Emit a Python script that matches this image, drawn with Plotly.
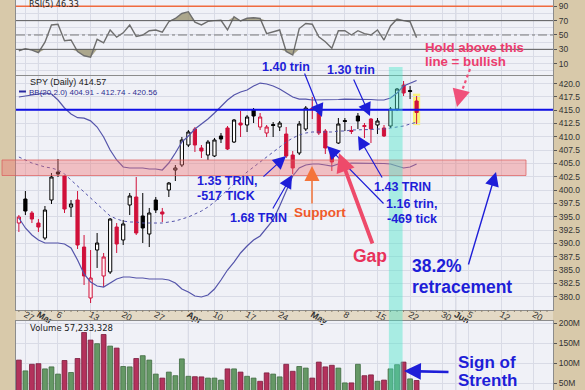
import plotly.graph_objects as go

# ---------------- data ----------------
PREV_CLOSE = 396.0          # close before the first visible bar (estimate)
day = list(range(-1, 61))   # trading-day index, 0 = Feb 27

opens = [393.84, 398.34, 395.72, 393.84, 391.03, 398.16, 403.41, 402.66, 396.84, 398.16,
         389.34, 379.78, 388.78, 383.91, 384.66, 393.09, 390.66, 397.22, 398.72, 395.16,
         391.78, 398.16, 395.91, 400.03, 403.78, 404.72, 408.47, 411.47, 407.91, 406.59,
         406.41, 410.16, 411.66, 409.03, 412.59, 412.22, 415.03, 411.84, 410.72, 412.31,
         411.84, 410.53, 406.59, 406.97, 411.47, 415.31, 414.47, 411.09, 406.97, 408.84,
         413.06, 411.19, 413.91, 412.13, 413.34, 412.22, 411.66, 412.03, 415.22, 419.72,
         418.69, 416.72]
highs = [395.34, 399.84, 396.09, 394.59, 397.03, 403.22, 405.84, 402.84, 398.16, 399.84,
         391.59, 388.78, 391.97, 388.22, 394.78, 393.84, 394.41, 399.47, 402.47, 399.47,
         396.66, 398.72, 396.66, 401.53, 404.72, 409.97, 411.28, 411.84, 408.47, 409.41,
         409.78, 410.72, 412.03, 413.34, 414.84, 414.09, 415.41, 414.47, 412.22, 412.78,
         412.97, 411.84, 407.34, 412.97, 415.78, 417.47, 414.84, 411.47, 407.72, 413.53,
         413.53, 412.03, 414.47, 412.59, 413.53, 413.53, 412.22, 415.59, 419.16, 420.47,
         419.53, 417.66]
lows = [392.16, 395.34, 393.84, 392.16, 390.66, 397.41, 402.47, 395.72, 394.97, 388.97,
        382.22, 378.84, 385.41, 381.84, 384.28, 388.22, 389.72, 395.34, 391.59, 390.09,
        389.34, 395.72, 394.03, 398.72, 401.72, 404.34, 408.09, 407.16, 406.03, 405.66,
        406.22, 408.84, 407.53, 408.84, 409.97, 410.91, 412.59, 411.28, 409.97, 409.97,
        411.09, 406.03, 403.03, 406.59, 411.09, 413.34, 410.34, 406.78, 403.59, 408.66,
        411.09, 410.53, 411.47, 409.78, 408.84, 410.53, 409.97, 411.66, 414.84, 417.66,
        417.09, 412.41]
closes = [394.97, 396.09, 394.59, 393.09, 396.28, 402.47, 403.03, 396.47, 397.41, 389.72,
          383.91, 383.53, 390.09, 387.47, 394.59, 389.91, 393.66, 398.91, 391.97, 392.91,
          395.72, 396.28, 395.53, 401.34, 404.16, 409.41, 410.91, 408.47, 407.34, 409.03,
          409.41, 409.59, 407.72, 413.16, 412.22, 413.72, 413.91, 413.72, 411.84, 412.13,
          412.59, 406.41, 404.16, 412.41, 415.41, 415.13, 410.72, 407.91, 405.28, 412.41,
          412.88, 411.00, 412.97, 411.94, 411.47, 412.97, 410.16, 415.22, 418.97, 418.22,
          418.50, 414.57]
volume_m = [108, 81, 97.5, 99, 86, 91, 73, 107, 77, 112, 177, 158, 149, 172, 143, 138,
            92, 91, 112, 119, 108, 73, 63, 78, 69, 111, 67.5, 66.5, 66, 63, 63, 58, 86,
            86, 78, 67.5, 63, 55, 76, 73, 66, 97.5, 80, 92, 88, 63, 103, 91, 95, 88, 51,
            51, 97.5, 69, 71, 55, 58, 86, 96.5, 103, 61, 57]
rsi = [28, 31, 29, 25.3, 40, 64, 65, 42, 43, 27, 21, 19, 44, 39, 57, 47, 53, 64, 48, 50,
       56, 57, 54, 68.5, 73, 80, 82.5, 68, 64, 69, 70, 70.5, 57, 75.5, 69.5, 73.3, 74, 73,
       52, 54, 57, 27, 22, 59, 66, 65, 47.6, 40.7, 31.5, 56, 56, 50, 56, 52, 50, 57, 43,
       62.6, 72.3, 70, 68.5, 46.33]
bb_upper = [417.47, 417.66, 417.84, 418.03, 418.22, 418.03, 416.91, 415.41, 414.28, 413.6,
            413.5, 413.0, 411.84, 409.97, 407.53, 405.66, 404.34, 404.16, 404.16, 404.16,
            403.97, 403.97, 403.78, 405.09, 406.97, 409.03, 410.16, 411.47, 412.41, 413.34,
            414.47, 415.78, 416.91, 417.84, 418.41, 418.78, 419.53, 420.09, 419.91, 419.53,
            418.97, 418.22, 417.47, 417.09, 417.09, 416.91, 416.91, 416.91, 416.91, 417.0,
            417.09, 417.09, 417.09, 417.09, 417.0, 416.91, 416.91, 417.28, 418.22, 419.53,
            420.09, 420.56]
bb_mid = [406.22, 405.66, 405.09, 404.72, 404.34, 404.16, 403.78, 403.03, 401.91, 400.78,
          399.66, 398.53, 397.41, 396.28, 395.16, 394.59, 394.22, 394.03, 394.03, 393.84,
          393.84, 393.84, 393.84, 394.03, 394.22, 394.59, 394.97, 395.53, 396.09, 396.84,
          397.78, 398.91, 400.03, 401.16, 402.28, 403.41, 404.34, 405.28, 406.22, 407.16,
          408.09, 409.03, 409.78, 410.34, 410.72, 410.91, 410.91, 410.91, 410.91, 411.09,
          411.09, 411.28, 411.28, 411.28, 411.38, 411.47, 411.47, 411.66, 411.84, 412.03,
          412.41, 412.74]
bb_lower = [394.78, 392.91, 391.59, 390.66, 390.09, 390.09, 390.09, 389.91, 389.16, 386.91,
            384.28, 382.78, 382.03, 381.84, 382.59, 383.34, 383.72, 383.72, 383.53, 383.53,
            383.34, 383.34, 383.34, 383.16, 382.59, 381.47, 380.91, 380.16, 379.97, 380.34,
            381.47, 383.16, 385.03, 386.53, 388.22, 389.53, 390.66, 391.41, 392.91, 394.41,
            397.03, 400.03, 402.66, 404.16, 404.72, 404.91, 404.91, 404.72, 404.53, 404.91,
            404.91, 405.09, 405.09, 405.09, 405.09, 405.09, 405.0, 404.91, 404.53, 404.16,
            404.34, 404.91]

date_tick_pos = [0, 2, 5, 10, 15, 20, 25, 29, 34, 39, 44, 49, 54, 59, 64, 66, 68, 73, 78]
date_tick_text = ["27", "<b>Mar</b>", "6", "13", "20", "27", "<b>Apr</b>", "10", "17", "24",
                  "<b>May</b>", "8", "15", "22", "30", "<b>Jun</b>", "5", "12", "20"]
month_pos = [2, 25, 44, 66]
price_ticks = [380.0, 382.5, 385.0, 387.5, 390.0, 392.5, 395.0, 397.5, 400.0, 402.5,
               405.0, 407.5, 410.0, 412.5, 415.0, 417.5, 420.0]
rsi_ticks = [10, 30, 50, 70, 90]
vol_ticks = [50, 100, 150, 200]
vol_tick_text = ["50M", "100M", "150M", "200M"]

RESIST_LEVEL = 415.1
SUPPORT_LOW, SUPPORT_HIGH = 402.75, 405.66

# ---------------- styling helpers ----------------
W, H = 585, 390
L_M, R_M = 16, 32
PW = W - L_M - R_M


def px(x):
    return (x - L_M) / PW


def py(y):
    return 1 - y / H


BLUE = "#1e1ed8"
PINK = "#ec3d6e"
RED_C = "#d0103a"
GRID = "#d9dbe6"
BG = "#f0f1f7"
FRAME = "#d8c9aa"
BB_COL = "#5454aa"

prev = [PREV_CLOSE] + closes[:-1]
is_red = [c < p for c, p in zip(closes, prev)]

fig = go.Figure()


def subset(flag):
    ids = [i for i in range(len(day)) if is_red[i] == flag]
    return ([day[i] for i in ids], [opens[i] for i in ids], [highs[i] for i in ids],
            [lows[i] for i in ids], [closes[i] for i in ids])


# ---------------- RSI panel ----------------
fig.add_trace(go.Scatter(x=day, y=[70] * len(day), mode="lines", line=dict(width=0),
                         xaxis="x", yaxis="y", hoverinfo="skip"))
fig.add_trace(go.Scatter(x=day, y=[max(v, 70) for v in rsi], mode="lines", line=dict(width=0),
                         fill="tonexty", fillcolor="rgba(150,142,105,0.75)",
                         xaxis="x", yaxis="y", hoverinfo="skip"))
fig.add_trace(go.Scatter(x=day, y=[30] * len(day), mode="lines", line=dict(width=0),
                         xaxis="x", yaxis="y", hoverinfo="skip"))
fig.add_trace(go.Scatter(x=day, y=[min(v, 30) for v in rsi], mode="lines", line=dict(width=0),
                         fill="tonexty", fillcolor="rgba(150,142,105,0.75)",
                         xaxis="x", yaxis="y", hoverinfo="skip"))
fig.add_trace(go.Scatter(x=day, y=rsi, mode="lines", line=dict(color="#6e6e6e", width=1.4),
                         xaxis="x", yaxis="y", hoverinfo="skip"))

# ---------------- Price panel ----------------
fig.add_trace(go.Scatter(x=day, y=bb_upper, mode="lines", line=dict(color=BB_COL, width=1.2),
                         xaxis="x2", yaxis="y2", hoverinfo="skip"))
fig.add_trace(go.Scatter(x=day, y=bb_lower, mode="lines", line=dict(color=BB_COL, width=1.2),
                         xaxis="x2", yaxis="y2", hoverinfo="skip"))
fig.add_trace(go.Scatter(x=day, y=bb_mid, mode="lines",
                         line=dict(color=BB_COL, width=1, dash="dot"),
                         xaxis="x2", yaxis="y2", hoverinfo="skip"))

bx, bo, bh, bl, bc = subset(False)
fig.add_trace(go.Candlestick(x=bx, open=bo, high=bh, low=bl, close=bc,
                             increasing=dict(line=dict(color="black", width=1), fillcolor="white"),
                             decreasing=dict(line=dict(color="black", width=1), fillcolor="black"),
                             whiskerwidth=0, xaxis="x2", yaxis="y2", hoverinfo="skip"))
rx, ro, rh, rl, rc = subset(True)
fig.add_trace(go.Candlestick(x=rx, open=ro, high=rh, low=rl, close=rc,
                             increasing=dict(line=dict(color=RED_C, width=1), fillcolor="#fff2f4"),
                             decreasing=dict(line=dict(color=RED_C, width=1), fillcolor=RED_C),
                             whiskerwidth=0, xaxis="x2", yaxis="y2", hoverinfo="skip"))

# ---------------- Volume panel ----------------
vol_fill = ["#b3325c" if r else "#659865" for r in is_red]
vol_edge = ["#7a1c3c" if r else "#3f6a40" for r in is_red]
fig.add_trace(go.Bar(x=day, y=volume_m, width=0.74,
                     marker=dict(color=vol_fill, line=dict(color=vol_edge, width=0.8)),
                     xaxis="x3", yaxis="y3", hoverinfo="skip"))

# ---------------- axes ----------------
x_common = dict(range=[-1.44, 80.92], tickmode="array", tickvals=date_tick_pos,
                showgrid=True, gridcolor=GRID, gridwidth=1, zeroline=False,
                showline=True, linecolor="#8c8c8c", linewidth=1, mirror=True,
                rangeslider=dict(visible=False), fixedrange=True, automargin=False)
y_common = dict(side="right", tickmode="array", ticks="outside", ticklen=3,
                tickcolor="#555", showgrid=True, gridcolor=GRID, zeroline=False,
                showline=True, linecolor="#8c8c8c", linewidth=1, mirror=True,
                fixedrange=True, automargin=False,
                tickfont=dict(family="Liberation Sans, Arial", size=8.5, color="#333333"))

fig.update_layout(
    template="none",
    width=W, height=H,
    margin=dict(l=L_M, r=R_M, t=0, b=0, pad=0),
    paper_bgcolor=FRAME, plot_bgcolor=BG,
    showlegend=False, hovermode=False,
    xaxis=dict(domain=[0, 1], anchor="y", showticklabels=False, **x_common),
    xaxis2=dict(domain=[0, 1], anchor="y2", showticklabels=True, ticktext=date_tick_text,
                ticks="", ticklabelstandoff=-5,
                tickfont=dict(family="Liberation Sans, Arial", size=9, color="#333"),
                **x_common),
    xaxis3=dict(domain=[0, 1], anchor="y3", showticklabels=False, **x_common),
    yaxis=dict(domain=[py(75), 1], range=[-5.8, 98.8], tickvals=rsi_ticks,
               minor=dict(tickvals=[0, 20, 40, 60, 80], showgrid=True, gridcolor=GRID),
               **y_common),
    yaxis2=dict(domain=[py(310), py(76)], range=[377.53, 421.41], tickvals=price_ticks,
                ticktext=["%.1f" % v for v in price_ticks], **y_common),
    yaxis3=dict(domain=[0, py(321)], range=[33.25, 205.75], tickvals=vol_ticks,
                ticktext=vol_tick_text, **y_common),
)

# ---------------- shapes ----------------
shapes = []
# date band between price and volume panels
shapes.append(dict(type="rect", xref="paper", yref="paper", x0=0, x1=1, y0=py(321), y1=py(310),
                   fillcolor="#e3d9c5", line=dict(width=0), layer="below"))
# small day ticks in the date band
for d in range(-1, 81):
    shapes.append(dict(type="line", xref="x2", yref="paper", x0=d, x1=d, y0=py(312), y1=py(310),
                       line=dict(color="#8a8070", width=1), layer="above"))
# month grid lines
for m in month_pos:
    for xa, ya, (a, b) in (("x", "y", (-5.8, 98.8)), ("x2", "y2", (377.53, 421.41)),
                           ("x3", "y3", (33.25, 205.75))):
        shapes.append(dict(type="line", xref=xa, yref=ya, x0=m, x1=m, y0=a, y1=b,
                           line=dict(color="#b9bac6", width=1), layer="below"))
# RSI levels
shapes += [
    dict(type="line", xref="paper", yref="y", x0=0, x1=1, y0=90, y1=90,
         line=dict(color="#ef6a3f", width=1.5)),
    dict(type="line", xref="paper", yref="y", x0=0, x1=1, y0=70, y1=70,
         line=dict(color="#5a5a5a", width=1)),
    dict(type="line", xref="paper", yref="y", x0=0, x1=1, y0=50, y1=50,
         line=dict(color="#7a7a7a", width=1, dash="dashdot")),
    dict(type="line", xref="paper", yref="y", x0=0, x1=1, y0=30, y1=30,
         line=dict(color="#5a5a5a", width=1)),
]
# yellow highlight behind the last candle
shapes.append(dict(type="rect", xref="x2", yref="y2", x0=59.45, x1=60.55, y0=412.2, y1=418.1,
                   fillcolor="#fbf27a", line=dict(width=0), layer="below"))
# resistance line
shapes.append(dict(type="line", xref="paper", yref="y2", x0=0, x1=1, y0=RESIST_LEVEL,
                   y1=RESIST_LEVEL, line=dict(color="#1010e6", width=2)))
# support band
shapes.append(dict(type="rect", xref="paper", yref="y2", x0=px(2), x1=px(526),
                   y0=SUPPORT_LOW, y1=SUPPORT_HIGH, fillcolor="rgba(238,110,110,0.38)",
                   line=dict(color="rgba(220,90,90,0.7)", width=1), layer="above"))
# cyan highlight
shapes.append(dict(type="rect", xref="x", yref="paper", x0=55.75, x1=57.85, y0=0, y1=py(67),
                   fillcolor="rgba(70,228,200,0.42)", line=dict(width=0), layer="above"))
# BB legend stroke
shapes.append(dict(type="line", xref="paper", yref="paper", x0=px(19), x1=px(26),
                   y0=py(91.5), y1=py(91.5), line=dict(color="#2a2aa0", width=2)))
# pink dotted pointer shaft
shapes.append(dict(type="line", xref="paper", yref="paper", x0=px(470), x1=px(459),
                   y0=py(69), y1=py(99), line=dict(color="#f0507a", width=2.2, dash="dot")))
fig.update_layout(shapes=shapes)

# ---------------- annotations ----------------
ann = []


def text(t, x, y, size, color, bold=True, family="Liberation Sans, Arial"):
    ann.append(dict(xref="paper", yref="paper", x=px(x), y=py(y), xanchor="left",
                    yanchor="middle", showarrow=False,
                    text=("<b>%s</b>" % t) if bold else t,
                    font=dict(family=family, size=size, color=color)))


def arrow(tip, tail, color, width, size, head=2):
    ann.append(dict(xref="paper", yref="paper", x=px(tip[0]), y=py(tip[1]),
                    ax=tail[0] - tip[0], ay=tail[1] - tip[1], text="", showarrow=True,
                    arrowhead=head, arrowsize=size, arrowwidth=width, arrowcolor=color,
                    standoff=0))


# panel titles
text("RSI(5) 46.33", 27, 5, 8, "#222", bold=False, family="DejaVu Sans")
text("SPY (Daily) 414.57", 28, 82, 9, "#222", bold=False)
text("BB(20,2.0) 404.91 - 412.74 - 420.56", 27, 92, 8, "#2e2e90", bold=False)
text("Volume 57,233,328", 28, 328, 8.5, "#222", bold=False, family="DejaVu Sans")

# commentary
text("1.40 trin", 260, 67, 12.5, BLUE)
text("1.30 trin", 325, 70, 12.5, BLUE)
text("Hold above this", 423, 47, 13.3, PINK)
text("line = bullish", 423, 62, 13.3, PINK)
text("1.35 TRIN,", 195, 181, 12.5, BLUE)
text("-517 TICK", 195, 196, 12.5, BLUE)
text("1.68 TRIN", 228, 218, 12.5, BLUE)
text("Support", 292, 213, 13.5, "#f0592a")
text("1.43 TRIN", 372, 187, 12.5, BLUE)
text("1.16 trin,", 384, 204, 12.5, BLUE)
text("-469 tick", 385, 219, 12.5, BLUE)
text("Gap", 351, 256, 17.5, "#e8325a")
text("38.2%", 410, 266, 17.5, BLUE)
text("retracement", 410, 287, 17.5, BLUE)
text("Sign of", 456, 362, 17, BLUE)
text("Strenth", 456, 380, 17, BLUE)

# arrows
arrow((322, 117), (304, 72), BLUE, 1.2, 2.2)
arrow((370, 116), (353, 78), BLUE, 1.2, 2.2)
arrow((286, 156), (262, 178), BLUE, 1.2, 2.2)
arrow((292, 175), (272, 210), BLUE, 1.2, 2.2)
arrow((358, 136), (383, 179), BLUE, 1.2, 2.2)
arrow((327, 146), (385, 205), BLUE, 1.2, 2.2)
arrow((496, 172), (468, 266), BLUE, 1.4, 2.0)
arrow((404, 371), (450, 372), BLUE, 2.6, 1.3)
arrow((312, 166), (312, 205), "#f4743a", 1.5, 2.0)
arrow((339, 153), (373, 245), "#ee4a6a", 3.8, 1.0)
arrow((457, 107), (459, 99), "#f0507a", 2.2, 1.6)

fig.update_layout(annotations=ann)

fig.write_html(
    "out.html",
    config={"displayModeBar": False, "staticPlot": True},
    post_script="document.body.style.margin='0';document.body.style.padding='0';"
                "document.body.style.overflow='hidden';",
)
